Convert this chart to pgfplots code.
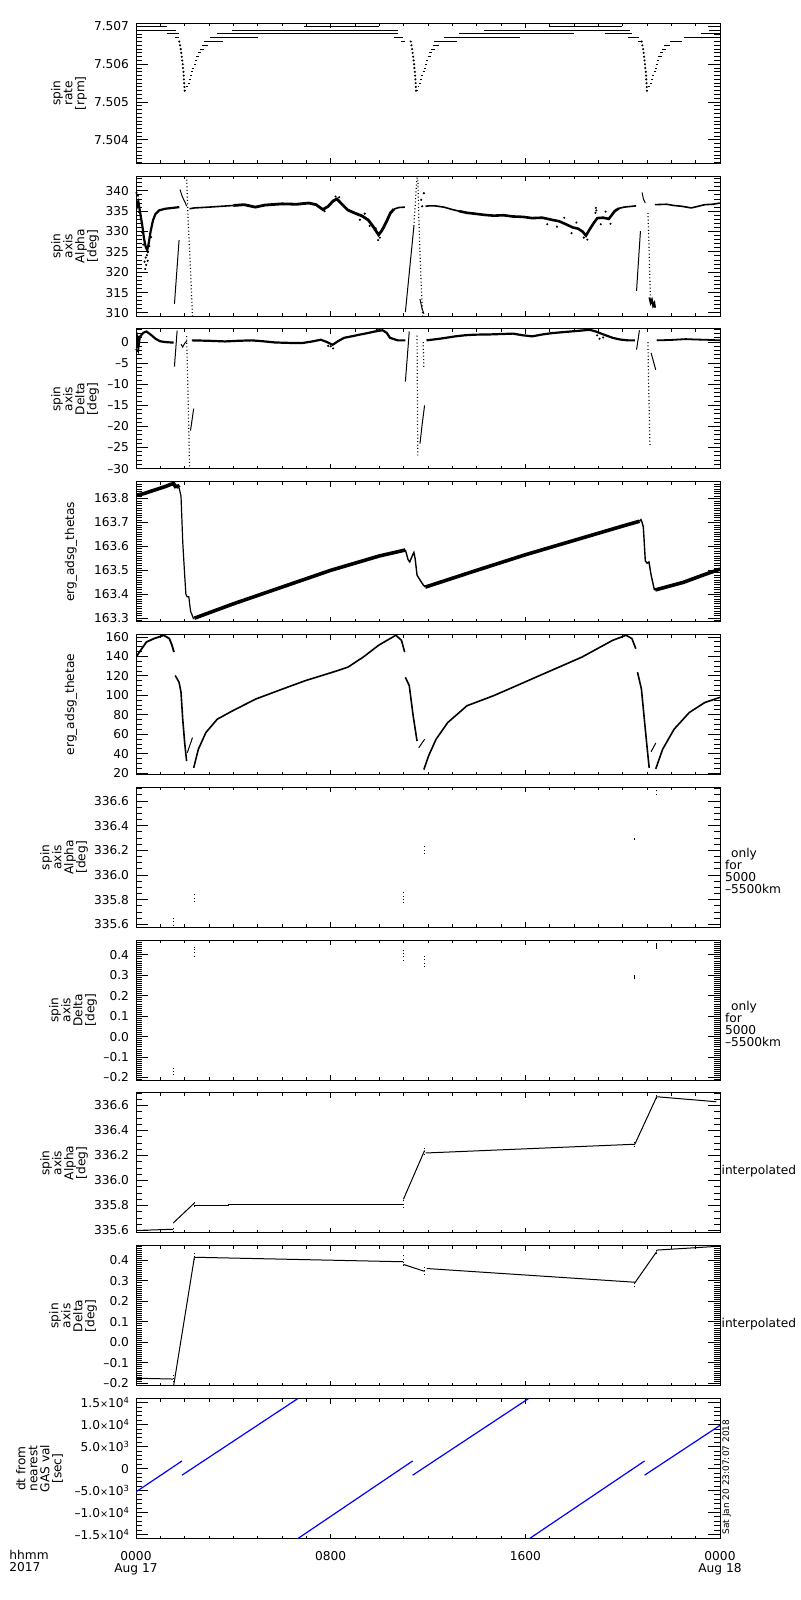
\documentclass[border=0pt]{standalone}
\usepackage{fontspec}
\setmainfont{DejaVu Sans}
\usepackage{pgfplots}
\pgfplotsset{compat=1.18}
\definecolor{idlblue}{RGB}{0,0,255}
\newcommand{\pf}{\fontsize{6.1}{6}\selectfont}
\newcommand{\tx}[1]{{\fontsize{4.8}{5}\selectfont×}10\raisebox{2.2pt}{\fontsize{4.2}{4}\selectfont #1}}
% minor tick lists built from exact strings
\def\mlistA{7.5034}
\foreach \i in {35,...,70}{\xdef\mlistA{\mlistA,7.50\i}}
\def\mlistD{163.29}
\foreach \i in {30,31,...,87}{\xdef\mlistD{\mlistD,163.\i}}
\def\mlistG{-0.21}
\foreach \i in {-20,-19,...,47}{\pgfmathsetmacro\v{\i/100}\xdef\mlistG{\mlistG,\v}}
\tikzset{
  dotl/.style={black, line width=0.6pt, dash pattern=on 0.5pt off 1.2pt},
  thin1/.style={black, line width=0.5pt},
  pts/.style={only marks, mark=*, mark size=0.3pt, black},
}
\pgfplotsset{
  idl/.style={
    scale only axis, width=292pt, height=70pt,
    xmin=0, xmax=24, xtick={0,8,16,24}, minor xtick={1,2,...,23},
    xticklabels={},
    major tick length=6pt, minor tick length=3pt,
    every major x tick/.append style={/pgfplots/major tick length=2.5pt},
    every minor x tick/.append style={/pgfplots/minor tick length=1.5pt},
    tick style={black, line width=0.45pt},
    axis line style={line width=0.5pt},
    font=\pf,
    yticklabel style={font=\pf},
    ylabel style={align=center, font=\pf, anchor=center},
    scaled y ticks=false,
    anchor=north west,
  },
  ylab/.style={ylabel style={at={(axis description cs:#1,0.5)}}},
  dense/.style={minor tick style={black, line width=0.35pt}},
}
\begin{document}
\begin{tikzpicture}
\path[use as bounding box] (0,0) rectangle (400pt,800pt);

% ---------- Panel 1: spin rate
\begin{axis}[idl, ylab=-0.1147, at={(68pt,788.3pt)},
  ymin=7.50338, ymax=7.50708,
  ytick={7.504,7.505,7.506,7.507}, yticklabels={7.504,7.505,7.506,7.507},
  minor ytick/.expand once=\mlistA,
  ylabel={spin\\rate\\{[rpm]}}, unbounded coords=jump]
\addplot[thin1] table[row sep=\\] {
x y\\
0 7.5070\\ 1.29 7.5070\\ 1.29 nan\\
0 7.5069\\ 1.64 7.5069\\ 1.64 nan\\
1.29 7.5068\\ 1.77 7.5068\\ 1.77 nan\\
1.60 7.5067\\ 1.77 7.5067\\ 1.77 nan\\
2.02 7.5053\\ 2.06 7.5053\\ 2 nan\\
2.06 7.5054\\ 2.14 7.5054\\ 2 nan\\
2.12 7.5055\\ 2.20 7.5055\\ 2 nan\\
2.17 7.5056\\ 2.25 7.5056\\ 2 nan\\
2.22 7.5057\\ 2.30 7.5057\\ 2 nan\\
2.27 7.5058\\ 2.35 7.5058\\ 2 nan\\
2.32 7.5059\\ 2.40 7.5059\\ 2 nan\\
2.37 7.5060\\ 2.46 7.5060\\ 2 nan\\
2.42 7.5061\\ 2.51 7.5061\\ 2 nan\\
2.47 7.5062\\ 2.60 7.5062\\ 2 nan\\
2.54 7.5063\\ 2.66 7.5063\\ 2 nan\\
2.62 7.5064\\ 2.79 7.5064\\ 2 nan\\
2.70 7.5065\\ 2.95 7.5065\\ 2 nan\\
2.79 7.5066\\ 3.58 7.5066\\ 3 nan\\
3.03 7.5067\\ 5.00 7.5067\\ 5 nan\\
3.34 7.5068\\ 10.76 7.5068\\ 10 nan\\
3.94 7.5069\\ 10.76 7.5069\\ 10 nan\\
6.89 7.5070\\ 9.97 7.5070\\ 10 nan\\
10.60 7.5067\\ 10.99 7.5067\\ 11 nan\\
10.91 7.5066\\ 11.07 7.5066\\ 11 nan\\
11.53 7.5053\\ 11.57 7.5053\\ 11 nan\\
11.57 7.5054\\ 11.65 7.5054\\ 11 nan\\
11.63 7.5055\\ 11.71 7.5055\\ 11 nan\\
11.68 7.5056\\ 11.76 7.5056\\ 11 nan\\
11.73 7.5057\\ 11.81 7.5057\\ 11 nan\\
11.78 7.5058\\ 11.86 7.5058\\ 11 nan\\
11.83 7.5059\\ 11.91 7.5059\\ 11 nan\\
11.88 7.5060\\ 11.97 7.5060\\ 11 nan\\
11.93 7.5061\\ 12.02 7.5061\\ 12 nan\\
11.98 7.5062\\ 12.11 7.5062\\ 12 nan\\
12.05 7.5063\\ 12.17 7.5063\\ 12 nan\\
12.13 7.5064\\ 12.30 7.5064\\ 12 nan\\
12.21 7.5065\\ 12.46 7.5065\\ 12 nan\\
12.26 7.5066\\ 13.20 7.5066\\ 13 nan\\
12.65 7.5067\\ 15.80 7.5067\\ 15 nan\\
13.28 7.5068\\ 18.01 7.5068\\ 18 nan\\
14.30 7.5069\\ 20.30 7.5069\\ 20 nan\\
16.99 7.5070\\ 19.98 7.5070\\ 20 nan\\
19.27 7.5068\\ 20.38 7.5068\\ 20 nan\\
20.22 7.5067\\ 20.69 7.5067\\ 20 nan\\
20.62 7.5066\\ 20.75 7.5066\\ 20 nan\\
21.02 7.5053\\ 21.06 7.5053\\ 21 nan\\
21.06 7.5054\\ 21.14 7.5054\\ 21 nan\\
21.12 7.5055\\ 21.20 7.5055\\ 21 nan\\
21.17 7.5056\\ 21.25 7.5056\\ 21 nan\\
21.22 7.5057\\ 21.30 7.5057\\ 21 nan\\
21.27 7.5058\\ 21.35 7.5058\\ 21 nan\\
21.32 7.5059\\ 21.40 7.5059\\ 21 nan\\
21.37 7.5060\\ 21.46 7.5060\\ 21 nan\\
21.42 7.5061\\ 21.51 7.5061\\ 21 nan\\
21.47 7.5062\\ 21.60 7.5062\\ 21 nan\\
21.54 7.5063\\ 21.66 7.5063\\ 21 nan\\
21.62 7.5064\\ 21.79 7.5064\\ 21 nan\\
21.70 7.5065\\ 21.95 7.5065\\ 21 nan\\
21.96 7.5066\\ 22.43 7.5066\\ 22 nan\\
22.51 7.5067\\ 24 7.5067\\ 24 nan\\
23.22 7.5068\\ 24 7.5068\\ 24 nan\\
23.53 7.5069\\ 24 7.5069\\ 24 nan\\
23.60 7.5070\\ 24 7.5070\\
};
\addplot[pts] coordinates {
(1.78,7.5066) (1.81,7.5065) (1.84,7.5064) (1.86,7.5063) (1.88,7.5062) (1.90,7.5061) (1.92,7.5060) (1.93,7.5059) (1.95,7.5058) (1.96,7.5057) (1.97,7.5056) (1.98,7.5055) (1.99,7.5054) (2.0,7.5053)
(11.29,7.5066) (11.32,7.5065) (11.35,7.5064) (11.37,7.5063) (11.39,7.5062) (11.41,7.5061) (11.43,7.5060) (11.44,7.5059) (11.46,7.5058) (11.47,7.5057) (11.48,7.5056) (11.49,7.5055) (11.50,7.5054) (11.51,7.5053)
(20.78,7.5066) (20.81,7.5065) (20.84,7.5064) (20.86,7.5063) (20.88,7.5062) (20.90,7.5061) (20.92,7.5060) (20.93,7.5059) (20.95,7.5058) (20.96,7.5057) (20.97,7.5056) (20.98,7.5055) (20.99,7.5054) (21.0,7.5053)
};
\end{axis}

% ---------- Panel 2: spin axis alpha
\begin{axis}[idl, ylab=-0.1045, at={(68pt,711.9pt)},
  ymin=309.2, ymax=343.6,
  ytick={310,315,320,325,330,335,340}, yticklabels={310,315,320,325,330,335,340},
  minor ytick={310,311,...,343},
  ylabel={spin\\axis\\Alpha\\{[deg]}}]
\addplot[black, line width=1.1pt] coordinates {(0,337.8) (0.05,336.3) (0.1,337.2) (0.15,335.4) (0.2,333.6) (0.27,331.0) (0.33,328.2) (0.4,326.2) (0.46,325.4) (0.52,327.0) (0.6,330.0) (0.7,332.8) (0.8,334.3) (0.95,335.2) (1.2,335.6) (1.5,335.8) (1.78,336.0)};
\addplot[pts] coordinates {(0.3,326.8) (0.35,322.6) (0.38,320.8) (0.4,323.6) (0.42,321.8) (0.45,324.2) (0.48,322.8) (0.5,325.0) (0.25,329.8) (0.55,326.4) (0.62,328.6) (0.08,338.8) (0.02,339.5) (0.12,334.8)};
\addplot[thin1] coordinates {(1.58,312.2) (1.77,327.9)};
\addplot[thin1] coordinates {(1.81,340.3) (1.9,338.6) (2.03,337.0) (2.08,336.2)};
\addplot[dotl] coordinates {(2.08,343.6) (2.14,333.0) (2.24,320.7) (2.32,309.2)};
\addplot[black, line width=0.8pt] coordinates {(2.2,335.6) (2.4,335.8) (3.0,336.0) (3.5,336.2) (4.0,336.4)};
\addplot[black, line width=1.4pt] coordinates {(4.0,336.4) (4.45,336.6) (4.9,336.0) (5.3,336.5) (6.0,336.8) (6.6,336.7) (7.1,337.0) (7.4,336.6) (7.68,335.4) (7.9,336.2) (8.1,337.5) (8.25,338.0) (8.45,336.8) (8.7,335.3) (9.0,334.5) (9.3,333.8) (9.55,332.8) (9.75,331.2) (9.9,329.8) (9.97,329.2) (10.1,330.2) (10.3,332.5) (10.45,334.5) (10.6,335.5)};
\addplot[black, line width=0.8pt] coordinates {(10.6,335.5) (10.8,335.9) (11.05,336.0)};
\addplot[pts] coordinates {(9.95,327.9) (10.02,328.5) (9.85,330.8) (9.6,331.4) (8.2,338.6) (8.35,338.4) (9.2,332.9) (9.4,334.4) (10.2,331.0) (7.75,335.0)};
\addplot[thin1] coordinates {(11.07,310.2) (11.42,331.3)};
\addplot[dotl] coordinates {(11.42,331.3) (11.49,338.0) (11.55,343.6)};
\addplot[dotl] coordinates {(11.58,343.6) (11.62,334.0) (11.67,324.8) (11.72,317.0) (11.78,309.2)};
\addplot[thin1] coordinates {(11.67,313.4) (11.75,311.2) (11.83,309.8)};
\addplot[pts] coordinates {(11.83,339.4) (11.72,337.8) (11.76,336.2)};
\addplot[black, line width=0.8pt] coordinates {(11.9,336.2) (12.02,336.3) (12.3,336.3) (12.65,336.0) (13.0,335.4) (13.28,335.0)};
\addplot[black, line width=1.3pt] coordinates {(13.28,335.0) (13.6,334.6) (13.9,334.4) (14.3,334.1) (14.7,333.9) (15.1,334.0) (15.49,333.7) (15.9,333.6) (16.28,333.3) (16.7,333.4) (17.07,332.9) (17.4,332.5) (17.7,331.7) (17.95,331.0) (18.17,330.7) (18.35,330.0) (18.49,329.0) (18.64,330.5) (18.8,332.0) (18.96,333.3) (19.2,333.4) (19.43,333.1) (19.67,335.0) (19.85,335.7)};
\addplot[black, line width=0.8pt] coordinates {(19.85,335.7) (20.06,336.0) (20.38,336.2) (20.55,336.3)};
\addplot[pts] coordinates {(17.3,331.2) (17.9,329.6) (18.1,332.2) (18.4,328.5) (18.55,328.0) (18.88,334.6) (18.9,335.8) (18.92,335.2) (19.1,331.8) (19.3,334.9) (19.5,331.9) (16.9,331.8) (17.6,333.4) (18.7,331.0)};
\addplot[thin1] coordinates {(20.57,315.4) (20.73,330.1)};
\addplot[thin1] coordinates {(20.8,339.6) (20.85,338.0) (20.93,337.0)};
\addplot[dotl] coordinates {(21.04,334.6) (21.08,327.0) (21.11,320.0) (21.14,314.2)};
\addplot[black, line width=1pt] coordinates {(21.1,313.8) (21.15,312.5) (21.2,313.2) (21.25,311.8) (21.3,312.4) (21.33,311.3)};
\addplot[black, line width=0.8pt] coordinates {(21.32,336.6) (21.8,336.7) (22.1,336.4) (22.43,336.2) (22.82,335.8) (23.1,336.2) (23.38,336.6) (23.7,336.7) (24,337.0)};
\end{axis}

% ---------- Panel 3: spin axis delta
\begin{axis}[idl, ylab=-0.1045, at={(68pt,635.5pt)},
  ymin=-30.1, ymax=3.1,
  ytick={-30,-25,-20,-15,-10,-5,0}, yticklabels={–30,–25,–20,–15,–10,–5,0},
  minor ytick={-30,-29,...,3},
  ylabel={spin\\axis\\Delta\\{[deg]}}]
\addplot[black, line width=1.1pt] coordinates {(0,-0.8) (0.05,0.8) (0.1,-1.2) (0.15,1.0) (0.2,1.5) (0.3,2.2) (0.43,2.5) (0.55,2.0) (0.66,1.5) (0.8,0.8) (0.98,0.2) (1.2,0.0) (1.45,-0.1) (1.55,-0.1)};
\addplot[pts] coordinates {(0.02,-1.8) (0.08,-2.2) (0.12,1.3) (0.04,-1.2)};
\addplot[thin1] coordinates {(1.58,-5.8) (1.69,2.7)};
\addplot[thin1] coordinates {(1.85,-0.5) (1.92,-1.2) (2.0,-0.3) (2.08,0.2)};
\addplot[dotl] coordinates {(2.08,1.4) (2.12,-8) (2.16,-18) (2.2,-29.8)};
\addplot[thin1] coordinates {(2.24,-21.0) (2.37,-15.8)};
\addplot[black, line width=1.1pt] coordinates {(2.3,0.4) (3.0,0.3) (3.66,0.15) (4.2,0.3) (4.76,0.4) (5.2,0.2) (5.71,-0.1) (6.3,-0.2) (6.81,-0.25) (7.2,0.1) (7.6,0.55) (7.85,0.0) (8.08,-0.65) (8.3,0.2) (8.55,1.0) (8.9,1.4) (9.18,1.75) (9.5,2.1) (9.81,2.5) (10.13,2.8) (10.3,2.2) (10.44,1.0) (10.76,0.4) (11.07,0.4)};
\addplot[pts] coordinates {(8.1,-1.5) (8.0,-1.0) (9.9,2.9) (10.0,3.0) (7.9,-0.9)};
\addplot[thin1] coordinates {(11.07,-9.4) (11.23,2.5)};
\addplot[dotl] coordinates {(11.55,1.5) (11.56,-8) (11.57,-18) (11.58,-26.9)};
\addplot[thin1] coordinates {(11.67,-24.1) (11.76,-19.5) (11.86,-15.0)};
\addplot[dotl] coordinates {(11.8,0.0) (11.83,-6.0)};
\addplot[black, line width=1.1pt] coordinates {(11.94,0.4) (12.5,0.8) (13.12,1.35) (13.5,1.6) (13.9,1.75) (14.5,1.8) (15.0,1.9) (15.49,2.0) (15.9,1.6) (16.28,1.35) (16.7,1.8) (17.07,2.1) (17.45,2.3) (17.85,2.5) (18.25,2.7) (18.64,2.9) (18.9,2.5) (19.12,2.0) (19.35,1.5) (19.59,1.0) (19.9,0.6) (20.22,0.4) (20.5,0.4)};
\addplot[pts] coordinates {(18.7,3.0) (18.95,1.6) (19.05,0.8) (19.2,1.1)};
\addplot[thin1] coordinates {(20.57,-1.8) (20.69,2.8)};
\addplot[dotl] coordinates {(21.04,0.0) (21.06,-8) (21.09,-16) (21.12,-24.5)};
\addplot[thin1] coordinates {(21.17,-2.6) (21.26,-4.5) (21.36,-6.6)};
\addplot[black, line width=0.9pt] coordinates {(21.4,0.4) (22.0,0.5) (22.59,0.7) (23.0,0.6) (23.38,0.55) (24,0.4)};
\end{axis}

% ---------- Panel 4: thetas
\begin{axis}[idl, dense, ylab=-0.1113, at={(68pt,559.1pt)},
  ymin=163.285, ymax=163.87,
  ytick={163.3,163.4,163.5,163.6,163.7,163.8}, yticklabels={163.3,163.4,163.5,163.6,163.7,163.8},
  minor ytick/.expand once=\mlistD,
  ylabel={erg\_adsg\_thetas}]
\addplot[black, line width=1.8pt] coordinates {(0,163.814) (0.3,163.82) (0.6,163.83) (0.9,163.84) (1.2,163.85) (1.45,163.86) (1.55,163.862) (1.62,163.85) (1.72,163.852) (1.77,163.845)};
\addplot[black, line width=0.6pt] coordinates {(1.77,163.845) (1.85,163.81) (1.92,163.62) (2.0,163.48) (2.05,163.40) (2.1,163.39) (2.17,163.39) (2.24,163.33) (2.37,163.296)};
\addplot[black, line width=1.8pt] coordinates {(2.4,163.300) (4.0,163.36) (6.0,163.43) (8.0,163.50) (10.0,163.56) (11.07,163.585)};
\addplot[black, line width=0.7pt] coordinates {(11.07,163.585) (11.1,163.575) (11.18,163.545) (11.25,163.535) (11.35,163.56) (11.42,163.575) (11.47,163.55) (11.55,163.48) (11.7,163.455) (11.8,163.44) (11.89,163.43)};
\addplot[black, line width=1.8pt] coordinates {(11.89,163.43) (14.0,163.50) (16.0,163.565) (18.0,163.625) (20.0,163.685) (20.69,163.705)};
\addplot[black, line width=0.7pt] coordinates {(20.69,163.705) (20.75,163.712) (20.8,163.70) (20.85,163.68) (20.93,163.54) (21.0,163.53) (21.08,163.535) (21.17,163.48) (21.3,163.42) (21.34,163.418)};
\addplot[black, line width=1.8pt] coordinates {(21.34,163.418) (22.5,163.45) (23.3,163.48) (24,163.505)};
\end{axis}

% ---------- Panel 5: thetae
\begin{axis}[idl, ylab=-0.1113, at={(68pt,482.7pt)},
  ymin=18.5, ymax=162.5,
  ytick={20,40,60,80,100,120,140,160}, yticklabels={20,40,60,80,100,120,140,160},
  minor ytick={20,25,...,160},
  ylabel={erg\_adsg\_thetae}]
\addplot[black, line width=0.9pt] coordinates {(0,139.4) (0.19,146.3) (0.43,154.9) (0.74,158.4) (1.14,161.8) (1.37,158.4) (1.48,151.5) (1.56,144.5)};
\addplot[black, line width=0.8pt] coordinates {(1.61,120.4) (1.77,113.5) (1.85,103.1) (1.92,75.5) (2.0,51.3) (2.08,32.3)};
\addplot[thin1] coordinates {(2.11,41) (2.32,56.5)};
\addplot[black, line width=0.8pt] coordinates {(2.37,25.4) (2.56,44.4) (2.87,61.7) (3.34,75.5) (3.97,84.1) (4.92,96.2) (6.03,106.6) (6.97,115.2) (8.08,123.8) (8.71,129) (9.34,139.4) (9.97,151.5) (10.44,158.4) (10.68,161.8) (10.91,156.6) (11.04,144.5)};
\addplot[black, line width=0.8pt] coordinates {(11.07,118.6) (11.23,110) (11.39,78.9) (11.55,53)};
\addplot[thin1] coordinates {(11.62,46.1) (11.86,54.8)};
\addplot[black, line width=0.8pt] coordinates {(11.83,23.7) (12.02,37.5) (12.33,54.8) (12.81,72) (13.6,89.3) (14.7,99.7) (15.49,108.3) (16.59,120.4) (17.38,129) (18.33,139.4) (18.96,148) (19.59,156.6) (20.14,161.8) (20.38,158.4) (20.54,148)};
\addplot[black, line width=0.8pt] coordinates {(20.61,123.8) (20.77,106.6) (20.93,65.1) (21.04,37.5) (21.09,25.4)};
\addplot[thin1] coordinates {(21.17,42) (21.36,51)};
\addplot[black, line width=0.8pt] coordinates {(21.36,24.4) (21.64,44.4) (22.11,65.1) (22.74,82.4) (23.38,92.7) (24,97.9)};
\end{axis}

% ---------- Panel 6: alpha 5000-5500 km
\begin{axis}[idl, ylab=-0.1233, at={(68pt,406.3pt)},
  ymin=335.575, ymax=336.71,
  ytick={335.6,335.8,336.0,336.2,336.4,336.6}, yticklabels={335.6,335.8,336.0,336.2,336.4,336.6},
  minor ytick={335.6,335.65,335.7,335.75,335.8,335.85,335.9,335.95,336.0,336.05,336.1,336.15,336.2,336.25,336.3,336.35,336.4,336.45,336.5,336.55,336.6,336.65,336.7},
  ylabel={spin\\axis\\Alpha\\{[deg]}}]
\addplot[dotl] coordinates {(1.53,335.59) (1.53,335.66)};
\addplot[dotl] coordinates {(2.40,335.78) (2.40,335.85)};
\addplot[dotl] coordinates {(10.99,335.77) (10.99,335.86)};
\addplot[dotl] coordinates {(11.86,336.17) (11.86,336.25)};
\addplot[thin1] coordinates {(20.5,336.28) (20.5,336.30)};
\addplot[dotl] coordinates {(21.4,336.65) (21.4,336.69)};
\end{axis}

% ---------- Panel 7: delta 5000-5500 km
\begin{axis}[idl, dense, ylab=-0.1080, at={(68pt,329.9pt)},
  ymin=-0.213, ymax=0.471,
  ytick={-0.2,-0.1,0,0.1,0.2,0.3,0.4}, yticklabels={–0.2,–0.1,0.0,0.1,0.2,0.3,0.4},
  minor ytick/.expand once=\mlistG,
  ylabel={spin\\axis\\Delta\\{[deg]}}]
\addplot[dotl] coordinates {(1.53,-0.19) (1.53,-0.15)};
\addplot[dotl] coordinates {(2.40,0.39) (2.40,0.44)};
\addplot[dotl] coordinates {(10.99,0.37) (10.99,0.43)};
\addplot[dotl] coordinates {(11.86,0.34) (11.86,0.40)};
\addplot[thin1] coordinates {(20.5,0.28) (20.5,0.30)};
\addplot[black, line width=0.7pt] coordinates {(21.4,0.43) (21.4,0.456)};
\end{axis}

% ---------- Panel 8: alpha interpolated
\begin{axis}[idl, ylab=-0.1233, at={(68pt,253.5pt)},
  ymin=335.58, ymax=336.70,
  ytick={335.6,335.8,336.0,336.2,336.4,336.6}, yticklabels={335.6,335.8,336.0,336.2,336.4,336.6},
  minor ytick={335.6,335.65,335.7,335.75,335.8,335.85,335.9,335.95,336.0,336.05,336.1,336.15,336.2,336.25,336.3,336.35,336.4,336.45,336.5,336.55,336.6,336.65,336.7},
  ylabel={spin\\axis\\Alpha\\{[deg]}}]
\addplot[thin1] coordinates {(0,335.60) (1.53,335.61)};
\addplot[thin1] coordinates {(1.53,335.66) (2.40,335.82)};
\addplot[thin1] coordinates {(2.40,335.80) (3.82,335.80) (3.82,335.81) (10.99,335.81)};
\addplot[thin1] coordinates {(10.99,335.85) (11.86,336.24)};
\addplot[thin1] coordinates {(11.90,336.22) (20.5,336.29)};
\addplot[thin1] coordinates {(20.5,336.29) (21.4,336.67) (23.85,336.63)};
\addplot[dotl] coordinates {(1.53,335.585) (1.53,335.63)};
\addplot[dotl] coordinates {(2.40,335.79) (2.40,335.84)};
\addplot[dotl] coordinates {(10.99,335.78) (10.99,335.86)};
\addplot[dotl] coordinates {(11.86,336.20) (11.86,336.26)};
\addplot[dotl] coordinates {(20.5,336.27) (20.5,336.32)};
\addplot[dotl] coordinates {(21.4,336.65) (21.4,336.69)};
\end{axis}

% ---------- Panel 9: delta interpolated
\begin{axis}[idl, dense, ylab=-0.1080, at={(68pt,177.1pt)},
  ymin=-0.213, ymax=0.471,
  ytick={-0.2,-0.1,0,0.1,0.2,0.3,0.4}, yticklabels={–0.2,–0.1,0.0,0.1,0.2,0.3,0.4},
  minor ytick/.expand once=\mlistG,
  ylabel={spin\\axis\\Delta\\{[deg]}}]
\addplot[thin1] coordinates {(0,-0.176) (1.53,-0.18)};
\addplot[thin1] coordinates {(1.55,-0.21) (2.40,0.415)};
\addplot[thin1] coordinates {(2.40,0.415) (10.99,0.393)};
\addplot[thin1] coordinates {(10.99,0.38) (11.86,0.346)};
\addplot[thin1] coordinates {(11.94,0.36) (20.5,0.293)};
\addplot[thin1] coordinates {(20.5,0.29) (21.4,0.443)};
\addplot[thin1] coordinates {(21.4,0.45) (23.85,0.468)};
\addplot[dotl] coordinates {(1.53,-0.213) (1.53,-0.15)};
\addplot[dotl] coordinates {(2.40,0.40) (2.40,0.44)};
\addplot[dotl] coordinates {(10.99,0.37) (10.99,0.43)};
\addplot[dotl] coordinates {(11.86,0.33) (11.86,0.37)};
\addplot[dotl] coordinates {(20.5,0.27) (20.5,0.30)};
\addplot[dotl] coordinates {(21.4,0.43) (21.4,0.46)};
\end{axis}

% ---------- Panel 10: dt from nearest GAS val
\begin{axis}[idl, ylab=-0.165, at={(68pt,100.7pt)},
  ymin=-15950, ymax=15950,
  ytick={-15000,-10000,-5000,0,5000,10000,15000},
  yticklabels={–1.5\tx{4},–1.0\tx{4},–5.0\tx{3},0,5.0\tx{3},1.0\tx{4},1.5\tx{4}},
  minor ytick={-15000,-14000,...,15000},
  xticklabels={{0000\\Aug 17},{0800},{1600},{0000\\Aug 18}},
  xticklabel style={align=center, font=\pf},
  xticklabel shift=3pt,
  ylabel={dt from\\nearest\\GAS val\\{[sec]}}]
\addplot[idlblue, line width=0.6pt] coordinates {(0,-5300) (1.89,1740)};
\addplot[idlblue, line width=0.6pt] coordinates {(1.89,-1500) (6.65,15950)};
\addplot[idlblue, line width=0.6pt] coordinates {(6.65,-15950) (11.37,1740)};
\addplot[idlblue, line width=0.6pt] coordinates {(11.37,-1500) (16.13,15950)};
\addplot[idlblue, line width=0.6pt] coordinates {(16.17,-15950) (20.9,1740)};
\addplot[idlblue, line width=0.6pt] coordinates {(20.9,-1500) (24,9850)};
\end{axis}

% ---------- side texts
\node[anchor=west, align=left, inner sep=0pt, font=\pf] at (362.3pt,364.3pt) {\hspace{0.5em}only\\for\\5000\\–5500km};
\node[anchor=west, align=left, inner sep=0pt, font=\pf] at (362.3pt,287.9pt) {\hspace{0.5em}only\\for\\5000\\–5500km};
\node[anchor=west, inner sep=0pt, font=\pf] at (360.6pt,214.5pt) {interpolated};
\node[anchor=west, inner sep=0pt, font=\pf] at (360.6pt,138.1pt) {interpolated};
\node[xshift=361pt, yshift=32.5pt, rotate=90, anchor=north west, inner sep=0pt, font=\fontsize{4.5}{5}\selectfont] at (0,0) {Sat Jan 20 23:07:07 2018};
\node[anchor=north west, align=left, inner sep=0pt, font=\pf] at (4.5pt,25.3pt) {hhmm\\2017};
\end{tikzpicture}
\end{document}
